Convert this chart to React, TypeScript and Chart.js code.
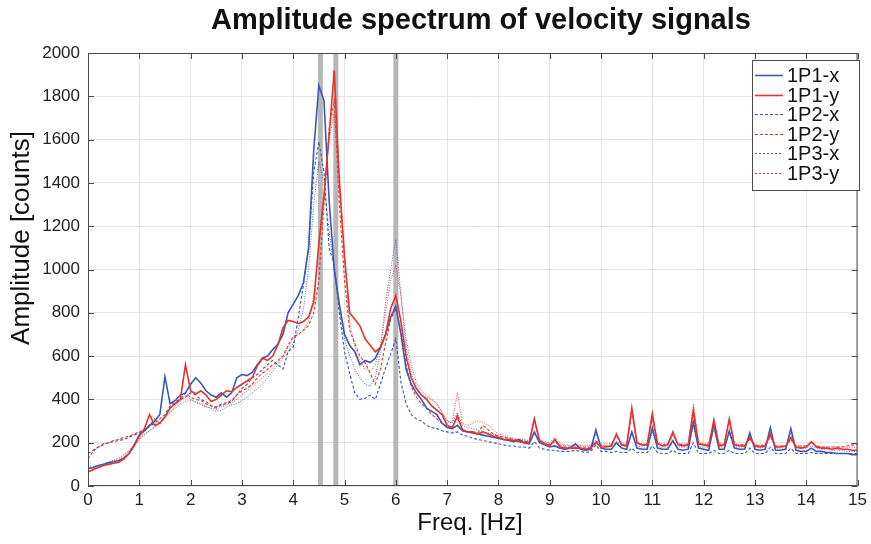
import React, { useEffect, useRef } from "react";
import { Chart, registerables } from "chart.js";

Chart.register(...registerables);

// ---------- data ----------
const freqStep = 0.1;
const freqHz: number[] = Array.from({ length: 151 }, (_, i) => Math.round(i * freqStep * 10) / 10);

const seriesLabels = ["1P1-x", "1P1-y", "1P2-x", "1P2-y", "1P3-x", "1P3-y"];

const amp1P1x = [
  80, 85, 95, 100, 108, 112, 118, 130, 150, 190,
  235, 255, 280, 300, 330, 505, 380, 395, 420, 430,
  470, 500, 475, 440, 420, 410, 430, 410, 430, 500,
  515, 510, 525, 560, 590, 600, 630, 655, 700, 800,
  840, 880, 940, 1100, 1550, 1850, 1780, 1320, 1000, 840,
  700, 650, 620, 560, 580, 570, 590, 640, 700, 780,
  830, 700, 540, 470, 430, 400, 360, 345, 330, 290,
  270, 265, 280, 255, 250, 245, 240, 235, 230, 225,
  220, 215, 210, 205, 215, 200, 195, 250, 200, 190,
  180, 185, 175, 170, 175, 195, 170, 165, 170, 260,
  175, 170, 170, 200, 175, 170, 250, 175, 170, 170,
  270, 175, 170, 170, 210, 170, 165, 170, 295, 175,
  170, 165, 285, 170, 170, 255, 175, 170, 170, 245,
  170, 165, 170, 270, 165, 165, 170, 265, 165, 160,
  160, 175, 160, 160, 155, 155, 150, 150, 150, 145, 145,
];

const amp1P1y = [
  65, 75, 85, 95, 100, 105, 110, 125, 150, 185,
  230, 265, 330, 280, 290, 320, 360, 380, 400, 560,
  440, 425, 440, 420, 390, 400, 420, 440, 435, 455,
  470, 485, 500, 555, 590, 580, 600, 650, 730, 765,
  760, 750, 760, 780, 850, 1120, 1340, 1620, 1920, 1400,
  1060, 800, 770, 740, 680, 650, 620, 640, 700, 820,
  880, 760, 600, 500, 450, 420, 400, 370, 350, 330,
  280, 270, 320, 260, 250, 250, 240, 250, 240, 230,
  225, 215, 215, 210, 205, 200, 200, 310, 210, 195,
  185, 215, 180, 175, 175, 175, 175, 170, 175, 200,
  180, 180, 185, 240, 190, 185, 360, 200, 190, 190,
  335, 195, 185, 190, 250, 190, 185, 190, 350, 195,
  190, 185, 305, 185, 190, 310, 190, 185, 185, 225,
  185, 180, 185, 240, 180, 180, 185, 225, 180, 175,
  180, 205, 180, 175, 175, 170, 175, 170, 170, 165, 165,
];

const amp1P2x = [
  150, 165, 180, 190, 200, 205, 210, 215, 225, 235,
  245, 260, 275, 290, 310, 330, 370, 390, 400, 410,
  430, 420, 400, 390, 370, 360, 375, 380, 390, 420,
  450, 470, 500, 515, 540, 560, 580, 560, 540, 620,
  640, 780, 930, 1100, 1450, 1590, 1450, 1100, 1020, 800,
  620, 520, 430, 400, 405, 420, 400, 470, 545, 610,
  680, 480, 380, 330, 310, 300, 280, 270, 265, 255,
  250, 245, 250, 235, 230, 220, 215, 210, 205, 200,
  195, 190, 185, 185, 180, 180, 175, 205, 175, 170,
  165, 165, 160, 160, 160, 165, 160, 155, 160, 190,
  160, 160, 155, 160, 155, 155, 175, 155, 155, 155,
  185, 155, 150, 150, 165, 150, 150, 150, 200, 150,
  150, 150, 165, 150, 150, 165, 150, 150, 150, 175,
  150, 150, 150, 180, 150, 150, 150, 175, 150, 150,
  150, 155, 150, 150, 150, 150, 150, 150, 150, 150, 150,
];

const amp1P2y = [
  125, 160, 180, 195, 200, 210, 215, 225, 230, 240,
  250, 260, 280, 310, 290, 320, 360, 380, 400, 430,
  410, 400, 395, 380, 370, 365, 380, 385, 395, 420,
  440, 450, 470, 500, 520, 540, 560, 580, 600, 650,
  690, 700, 720, 740, 800, 950, 1300, 1650, 1780, 1300,
  950, 720, 660, 600, 570, 520, 470, 540, 660, 770,
  820, 720, 560, 460, 410, 380, 360, 330, 310, 290,
  275, 270, 330, 255, 250, 250, 245, 280, 260, 240,
  230, 225, 220, 215, 210, 205, 205, 310, 205, 195,
  190, 210, 185, 180, 180, 180, 180, 175, 180, 205,
  185, 185, 190, 235, 190, 190, 350, 195, 190, 190,
  320, 195, 190, 190, 240, 195, 190, 190, 340, 195,
  190, 190, 295, 190, 190, 300, 190, 190, 190, 215,
  190, 185, 190, 230, 185, 185, 185, 215, 185, 185,
  185, 200, 185, 180, 180, 180, 180, 180, 185, 190, 190,
];

const amp1P3x = [
  95, 90, 95, 100, 110, 120, 130, 145, 165, 190,
  220, 240, 255, 270, 290, 320, 340, 360, 380, 390,
  395, 390, 380, 370, 355, 345, 350, 365, 375, 380,
  395, 410, 430, 450, 470, 500, 530, 560, 590, 620,
  660, 720, 820, 1000, 1300, 1500, 1400, 1180, 1000, 820,
  680, 600, 540, 500, 470, 460, 500, 620, 850, 1000,
  1140, 880, 640, 520, 460, 420, 410, 400, 380, 340,
  300, 290, 340, 280, 270, 265, 260, 250, 245, 240,
  230, 225, 220, 215, 215, 210, 205, 240, 205, 200,
  195, 200, 190, 185, 185, 190, 185, 180, 185, 240,
  190, 185, 185, 205, 185, 185, 240, 185, 180, 180,
  250, 180, 180, 180, 200, 180, 180, 180, 280, 180,
  180, 180, 260, 180, 180, 240, 180, 180, 180, 230,
  180, 175, 180, 250, 175, 175, 175, 245, 175, 175,
  175, 185, 175, 170, 170, 165, 165, 165, 160, 160, 160,
];

const amp1P3y = [
  85, 80, 85, 95, 105, 115, 125, 140, 160, 185,
  215, 235, 255, 275, 290, 310, 340, 370, 390, 420,
  400, 385, 375, 365, 360, 355, 365, 375, 385, 400,
  420, 440, 460, 480, 500, 520, 545, 570, 600, 640,
  680, 700, 720, 760, 880, 1100, 1350, 1600, 1720, 1450,
  1050, 760, 640, 580, 540, 530, 560, 650, 800, 950,
  1020, 880, 680, 560, 480, 440, 420, 400, 380, 340,
  300, 295, 430, 290, 280, 290, 300, 295, 280, 260,
  240, 235, 225, 220, 215, 215, 210, 300, 215, 205,
  200, 225, 195, 190, 190, 190, 190, 185, 190, 210,
  195, 195, 195, 230, 195, 195, 340, 200, 195, 195,
  310, 200, 195, 195, 235, 195, 195, 195, 380, 200,
  195, 195, 290, 195, 195, 300, 195, 190, 190, 215,
  190, 190, 190, 225, 185, 185, 185, 215, 185, 185,
  185, 200, 185, 180, 180, 180, 180, 180, 180, 180, 175,
];

const seriesValues = [amp1P1x, amp1P1y, amp1P2x, amp1P2y, amp1P3x, amp1P3y];

// highlighted frequencies (gray vertical bands)
const bandFreqs = [4.53, 4.83, 6.0];

const titleText = "Amplitude spectrum of velocity signals";
const xTitle = "Freq. [Hz]";
const yTitle = "Amplitude [counts]";

// ---------- styles ----------
const FONT = '"Liberation Sans", Arial, Helvetica, sans-serif';
const BLUE = "#3a58b4";
const RED = "#e6322c";
const styles = [
  { color: BLUE, width: 1.6, dash: [] as number[], legendDash: [] as number[], order: 1 },
  { color: RED, width: 1.6, dash: [] as number[], legendDash: [] as number[], order: 0 },
  { color: BLUE, width: 1.1, dash: [3, 2], legendDash: [3, 2], order: 3 },
  { color: RED, width: 1.1, dash: [3, 2], legendDash: [3, 2], order: 2 },
  { color: BLUE, width: 0.9, dash: [1, 1.5], legendDash: [2, 2], order: 5 },
  { color: RED, width: 0.9, dash: [1, 1.5], legendDash: [2, 2], order: 4 },
];

const framePlugin = {
  id: "matlabFrame",
  beforeDatasetsDraw(chart: any) {
    const { ctx, chartArea } = chart;
    const xs = chart.scales.x;
    ctx.save();
    ctx.fillStyle = "rgba(175,175,175,0.9)";
    bandFreqs.forEach((f) => {
      const px = xs.getPixelForValue(f);
      ctx.fillRect(px - 2.5, chartArea.top, 5, chartArea.bottom - chartArea.top);
    });
    ctx.restore();
  },
  afterDraw(chart: any) {
    const { ctx, chartArea } = chart;
    const { left, right, top, bottom } = chartArea;
    const xs = chart.scales.x;
    const ys = chart.scales.y;
    ctx.save();
    // box
    ctx.strokeStyle = "#4a4a4a";
    ctx.lineWidth = 1;
    ctx.strokeRect(left + 0.5, top + 0.5, right - left - 1, bottom - top - 1);
    // inward ticks
    const tl = 6;
    ctx.beginPath();
    xs.ticks.forEach((t: any) => {
      const px = Math.round(xs.getPixelForValue(t.value)) + 0.5;
      ctx.moveTo(px, bottom);
      ctx.lineTo(px, bottom - tl);
      ctx.moveTo(px, top);
      ctx.lineTo(px, top + tl);
    });
    ys.ticks.forEach((t: any) => {
      const py = Math.round(ys.getPixelForValue(t.value)) + 0.5;
      ctx.moveTo(left, py);
      ctx.lineTo(left + tl, py);
      ctx.moveTo(right, py);
      ctx.lineTo(right - tl, py);
    });
    ctx.stroke();

    // title
    ctx.fillStyle = "#111";
    ctx.textAlign = "center";
    ctx.textBaseline = "middle";
    ctx.font = `bold 29px ${FONT}`;
    ctx.fillText(titleText, 481, 21);
    // axis titles
    ctx.font = `24px ${FONT}`;
    ctx.fillText(xTitle, 470, 523);
    ctx.save();
    ctx.translate(22, 238);
    ctx.rotate(-Math.PI / 2);
    ctx.font = `26px ${FONT}`;
    ctx.fillText(yTitle, 0, 0);
    ctx.restore();

    // legend
    const lx = 752, ly = 60, lw = 107, lh = 130;
    ctx.fillStyle = "#fff";
    ctx.fillRect(lx, ly, lw, lh);
    ctx.strokeStyle = "#4a4a4a";
    ctx.lineWidth = 1;
    ctx.strokeRect(lx + 0.5, ly + 0.5, lw, lh);
    ctx.font = `20px ${FONT}`;
    ctx.textAlign = "left";
    ctx.textBaseline = "middle";
    chart.data.datasets.forEach((ds: any, i: number) => {
      const cy = Math.round(75 + i * 19.5) + 0.5;
      ctx.beginPath();
      ctx.strokeStyle = styles[i].color;
      ctx.lineWidth = i < 2 ? 1.6 : 1;
      ctx.lineCap = "butt";
      ctx.setLineDash(styles[i].legendDash);
      ctx.moveTo(755, cy);
      ctx.lineTo(783, cy);
      ctx.stroke();
      ctx.setLineDash([]);
      ctx.fillStyle = "#111";
      ctx.fillText(ds.label, 787, cy + 1);
    });
    ctx.restore();
  },
};

export default function App() {
  const ref = useRef<HTMLCanvasElement | null>(null);
  useEffect(() => {
    if (!ref.current) return;
    const chart = new Chart(ref.current, {
      type: "line",
      data: {
        datasets: seriesValues.map((vals, i) => ({
          label: seriesLabels[i],
          data: vals.map((v, j) => ({ x: freqHz[j], y: v })),
          borderColor: styles[i].color,
          borderWidth: styles[i].width,
          borderDash: styles[i].dash,
          order: styles[i].order,
          pointRadius: 0,
          tension: 0,
          fill: false,
        })),
      },
      options: {
        responsive: false,
        animation: false,
        events: [],
        layout: { padding: { left: 0, top: 53, right: 11, bottom: 0 } },
        plugins: {
          legend: { display: false },
          title: { display: false },
          tooltip: { enabled: false },
        },
        scales: {
          x: {
            type: "linear",
            min: 0,
            max: 15,
            afterFit: (s: any) => { s.height = 58; },
            grid: { color: "#e4e4e4", drawTicks: false },
            border: { display: false },
            ticks: {
              stepSize: 1,
              padding: 4,
              color: "#222",
              font: { family: FONT, size: 17 },
              maxRotation: 0,
            },
          },
          y: {
            min: 0,
            max: 2000,
            afterFit: (s: any) => { s.width = 88; },
            grid: { color: "#e4e4e4", drawTicks: false },
            border: { display: false },
            ticks: {
              stepSize: 200,
              padding: 8,
              color: "#222",
              font: { family: FONT, size: 17 },
              callback: (v: any) => String(v),
            },
          },
        },
      },
      plugins: [framePlugin],
    });
    return () => chart.destroy();
  }, []);
  return (
    <div style={{ position: "absolute", left: 0, top: 0, width: 871, height: 544, background: "#fff" }}>
      <canvas ref={ref} width={871} height={544} />
    </div>
  );
}
